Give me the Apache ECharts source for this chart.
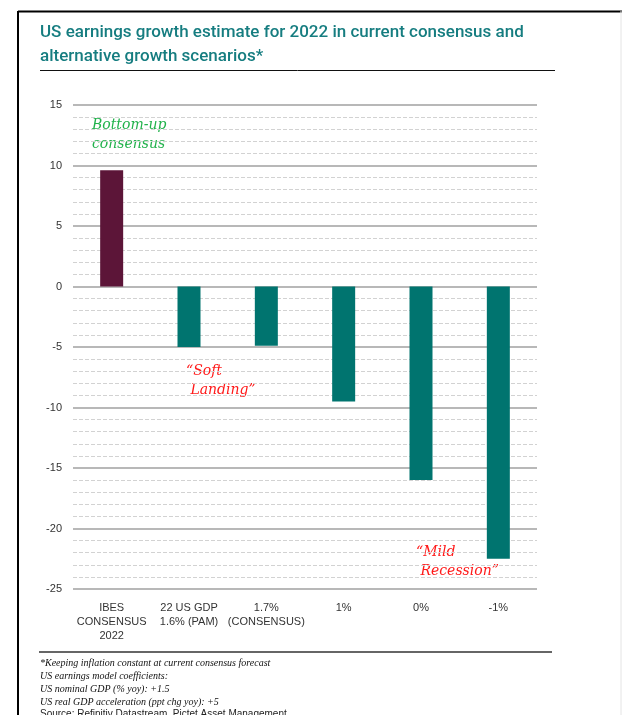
<!DOCTYPE html>
<html>
<head>
<meta charset="utf-8">
<script src="https://cdn.jsdelivr.net/npm/echarts@6/dist/echarts.min.js"></script>
<style>
html,body{margin:0;padding:0;background:#fff;}
#chart{width:622px;height:715px;}
</style>
</head>
<body>
<div id="chart"></div>
<script>
const categories = ['IBES\nCONSENSUS\n2022', '22 US GDP\n1.6% (PAM)', '1.7%\n(CONSENSUS)', '1%', '0%', '-1%'];
const growthValues = [9.6, -5, -4.9, -9.5, -16, -22.5];
const barColors = ['#5c1538', '#00746f', '#00746f', '#00746f', '#00746f', '#00746f'];
const yTicks = { min: -25, max: 15, interval: 5 };
const titleLines = 'US earnings growth estimate for 2022 in current consensus and\nalternative growth scenarios*';
const footnotes = [
  '*Keeping inflation constant at current consensus forecast',
  'US earnings model coefficients:',
  'US nominal GDP (% yoy): +1.5',
  'US real GDP acceleration (ppt chg yoy): +5'
];
const sourceText = 'Source: Refinitiv Datastream, Pictet Asset Management';

const chart = echarts.init(document.getElementById('chart'), null, {renderer: 'canvas'});

const graphics = [
  {type: 'line', shape: {x1: 18, y1: 11.5, x2: 622, y2: 11.5}, style: {stroke: '#000', lineWidth: 2}},
  {type: 'line', shape: {x1: 18, y1: 11, x2: 18, y2: 715}, style: {stroke: '#000', lineWidth: 2}},
  {type: 'line', shape: {x1: 621, y1: 11, x2: 621, y2: 715}, style: {stroke: '#e4e4e4', lineWidth: 1}},
  {type: 'text', left: 40, top: 21, style: {text: titleLines, font: '500 17px Roboto, "Liberation Sans", sans-serif', fill: '#167d80', lineHeight: 24}},
  {type: 'line', shape: {x1: 40, y1: 70.5, x2: 555, y2: 70.5}, style: {stroke: '#111', lineWidth: 1}},
  {type: 'line', shape: {x1: 39, y1: 652, x2: 552, y2: 652}, style: {stroke: '#666', lineWidth: 2}},
  {type: 'text', left: 40, top: 657, style: {text: footnotes.join('\n'), font: 'italic 10px "Liberation Serif", serif', fill: '#111', lineHeight: 13}},
  {type: 'text', left: 40, top: 709, style: {text: sourceText, font: '10px "Liberation Sans", sans-serif', fill: '#222'}},
  {type: 'text', left: 92, top: 116, style: {text: 'Bottom-up\nconsensus', font: 'italic 14px "DejaVu Serif", serif', fill: '#22b24c', lineHeight: 19}},
  {type: 'text', left: 186, top: 362, style: {text: '\u201cSoft\n Landing\u201d', font: 'italic 14px "DejaVu Serif", serif', fill: '#ff1a1a', lineHeight: 19}},
  {type: 'text', left: 416, top: 543, style: {text: '\u201cMild\n Recession\u201d', font: 'italic 14px "DejaVu Serif", serif', fill: '#ff1a1a', lineHeight: 19}}
];

chart.setOption({
  animation: false,
  backgroundColor: '#fff',
  grid: {left: 73, right: 85, top: 105, bottom: 126},
  xAxis: {
    type: 'category',
    data: categories,
    position: 'bottom',
    axisLine: {show: false},
    axisTick: {show: false},
    axisLabel: {color: '#333', fontSize: 11, fontFamily: '"Liberation Sans", sans-serif', lineHeight: 14, margin: 12, interval: 0}
  },
  yAxis: {
    type: 'value',
    min: yTicks.min,
    max: yTicks.max,
    interval: yTicks.interval,
    axisLine: {show: false},
    axisTick: {show: false},
    axisLabel: {color: '#333', fontSize: 11, fontFamily: '"Liberation Sans", sans-serif', margin: 11},
    splitLine: {show: true, lineStyle: {color: '#a0a0a0', width: 1.5}},
    minorTick: {show: false, splitNumber: 5},
    minorSplitLine: {show: true, lineStyle: {color: '#d2d2d2', type: [4, 2], width: 1}}
  },
  series: [{
    type: 'bar',
    data: growthValues.map((v, i) => ({value: v, itemStyle: {color: barColors[i]}})),
    barWidth: 23
  }],
  graphic: graphics
});
</script>
</body>
</html>
